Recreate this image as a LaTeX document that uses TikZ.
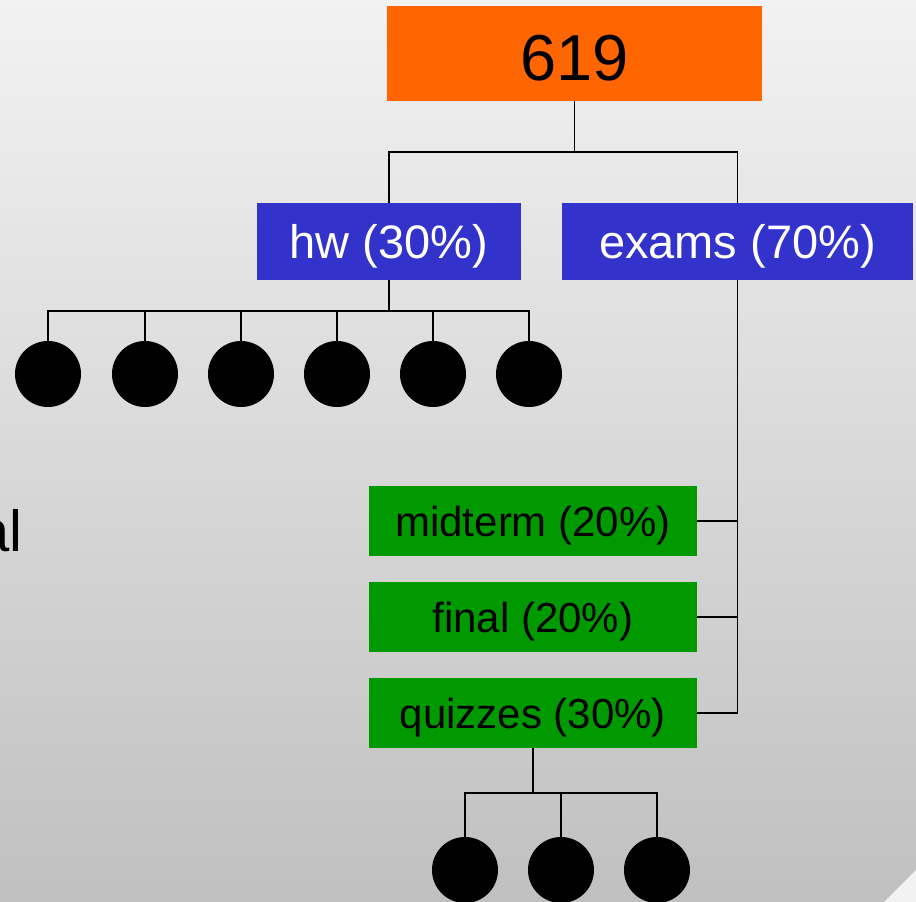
\documentclass[tikz,border=0pt]{standalone}
\usepackage{fontspec}
\setmainfont{Liberation Sans}
\definecolor{rootc}{HTML}{FF6600}
\definecolor{bluec}{HTML}{3333CC}
\definecolor{greenc}{HTML}{009900}
\definecolor{bgtop}{HTML}{F2F2F2}
\definecolor{bgbot}{HTML}{C0C0C0}
\begin{document}
\begin{tikzpicture}[x=1pt,y=-1pt,
  box/.style={rectangle, inner sep=0pt, anchor=center},
  rootbox/.style={box, fill=rootc, minimum width=375pt, minimum height=95pt, text height=54pt, text depth=0pt, font=\fontsize{65}{70}\selectfont},
  bluebox/.style={box, fill=bluec, text=white, minimum height=77pt, text depth=0pt, font=\fontsize{47}{52}\selectfont},
  greenbox/.style={box, fill=greenc, text=black, minimum width=328pt, minimum height=70pt, text depth=0pt, font=\fontsize{42}{48}\selectfont},
  leaf/.style={circle, fill=black, inner sep=0pt, minimum size=66pt},
  conn/.style={draw=black, line width=1.8pt}]
\useasboundingbox (0,0) rectangle (916,902);
\clip (0,0) rectangle (916,902);
\shade[top color=bgtop, bottom color=bgbot] (0,0) rectangle (916,902);
\fill[bgtop] (883,903) -- (917,869) -- (917,903) -- cycle;

\node[anchor=base east, inner sep=0pt, font=\fontsize{58}{64}\selectfont] (lbl) at (23,551) {al};

\node[rootbox] (root) at (574.5,53.5) {619};
\node[bluebox, minimum width=264pt] (hw) at (389,241.5) {hw (30\%)};
\node[bluebox, minimum width=351pt] (exams) at (737.5,241.5) {exams (70\%)};
\node[greenbox] (mid) at (533,521) {midterm (20\%)};
\node[greenbox] (fin) at (533,617) {final (20\%)};
\node[greenbox] (quiz) at (533,713) {quizzes (30\%)};

\foreach \i/\x in {1/48,2/145,3/241,4/337,5/433,6/529}
  \node[leaf] (h\i) at (\x,374) {};
\foreach \i/\x in {1/465,2/561,3/657}
  \node[leaf] (q\i) at (\x,870) {};

\coordinate (j1) at (574.5,152);
\coordinate (j2) at (389,311);
\coordinate (j3) at (533,793);

\draw[conn] (root.south) -- (j1);
\draw[conn] (hw.north) |- (j1) -| (exams.north);

\draw[conn] (hw.south) -- (j2);
\draw[conn] (h1.north) |- (j2) -| (h6.north);
\foreach \i in {2,3,4,5}
  \draw[conn] (h\i.north) -- (h\i.north |- j2);

\draw[conn] (exams.south) |- (quiz.east);
\draw[conn] (mid.east) -- (mid.east -| exams.south);
\draw[conn] (fin.east) -- (fin.east -| exams.south);

\draw[conn] (quiz.south) -- (j3);
\draw[conn] (q1.north) |- (j3) -| (q3.north);
\draw[conn] (q2.north) -- (q2.north |- j3);
\end{tikzpicture}
\end{document}
